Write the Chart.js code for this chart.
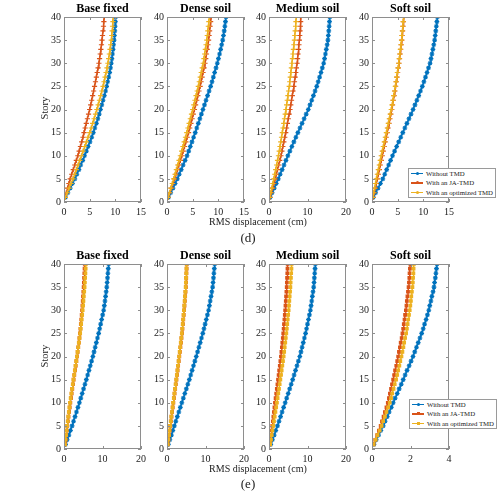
<!DOCTYPE html>
<html>
<head>
<meta charset="utf-8">
<script src="https://cdn.jsdelivr.net/npm/chart.js@4.4.1/dist/chart.umd.min.js"></script>
<style>
  body { margin: 0; background: #fff; }
  #fig { position: relative; width: 500px; height: 493px; overflow: hidden; font-family: "Liberation Serif", "Times New Roman", serif; color: #222; }
  .cv { position: absolute; }
  .txt { position: absolute; white-space: nowrap; transform: translate(-50%, -50%); }
  .rot { transform: translate(-50%, -50%) rotate(-90deg); }
  .legend { position: absolute; border: 1px solid #9a9a9a; background: #fff; font-size: 6.8px; }
  .legend div { position: relative; height: 9.3px; line-height: 9.3px; padding-left: 17px; padding-right: 2px; }
  .legend span.ln { position: absolute; left: 2px; top: 4px; width: 12px; height: 1.4px; }
  .legend span.mk { position: absolute; left: 6.5px; top: 3.2px; width: 3px; height: 3px; }
</style>
</head>
<body>
<div id="fig"></div>
<script>
// data: RMS displacement (cm) per story
const stories = [1,2,3,4,5,6,7,8,9,10,11,12,13,14,15,16,17,18,19,20,21,22,23,24,25,26,27,28,29,30,31,32,33,34,35,36,37,38,39,40];
const seriesNames = ['Without TMD', 'With an JA-TMD', 'With an optimized TMD'];
const panelTitles = ['Base fixed', 'Dense soil', 'Medium soil', 'Soft soil'];
const xMaxD = [15, 15, 20, 15];
const xStepD = [5, 5, 10, 5];
const xMaxE = [20, 20, 20, 4];
const xStepE = [10, 10, 10, 2];

// (d)
const dBaseNo  = [0.3,0.75,1.2,1.65,2.1,2.5,2.9,3.25,3.65,4.0,4.35,4.7,5.05,5.4,5.7,6.0,6.3,6.6,6.85,7.1,7.35,7.6,7.85,8.1,8.3,8.5,8.7,8.9,9.05,9.2,9.32,9.44,9.55,9.65,9.75,9.82,9.89,9.95,10.0,10.05];
const dBaseJA  = [0.2,0.45,0.7,0.95,1.2,1.5,1.8,2.1,2.4,2.7,2.95,3.2,3.45,3.7,3.9,4.12,4.34,4.56,4.78,5.0,5.2,5.39,5.58,5.77,5.95,6.13,6.3,6.47,6.64,6.8,6.93,7.06,7.18,7.3,7.4,7.5,7.6,7.69,7.77,7.85];
const dBaseOpt = [0.25,0.62,1.0,1.38,1.75,2.08,2.41,2.74,3.07,3.4,3.72,4.04,4.36,4.68,5.0,5.3,5.58,5.86,6.13,6.4,6.65,6.9,7.14,7.37,7.6,7.8,8.0,8.19,8.37,8.55,8.69,8.83,8.96,9.08,9.2,9.29,9.37,9.45,9.53,9.6];
const dDenseNo  = [0.3,0.72,1.15,1.58,2.0,2.38,2.76,3.14,3.52,3.9,4.22,4.54,4.86,5.18,5.5,5.8,6.1,6.4,6.7,7.0,7.3,7.6,7.9,8.2,8.5,8.77,9.03,9.28,9.55,9.8,10.02,10.24,10.45,10.65,10.85,11.0,11.14,11.27,11.39,11.5];
const dDenseJA  = [0.2,0.51,0.82,1.13,1.45,1.74,2.03,2.32,2.61,2.9,3.16,3.42,3.68,3.94,4.2,4.43,4.66,4.89,5.12,5.35,5.57,5.79,6.01,6.23,6.45,6.64,6.83,7.02,7.21,7.4,7.55,7.69,7.83,7.97,8.1,8.2,8.3,8.4,8.5,8.6];
const dDenseOpt = [0.2,0.48,0.75,1.03,1.3,1.56,1.82,2.08,2.34,2.6,2.85,3.1,3.35,3.6,3.85,4.08,4.31,4.54,4.77,5.0,5.22,5.44,5.66,5.88,6.1,6.29,6.48,6.67,6.86,7.05,7.19,7.33,7.47,7.61,7.75,7.85,7.95,8.05,8.15,8.25];
const dMedNo  = [0.3,0.82,1.35,1.88,2.4,2.9,3.4,3.9,4.4,4.9,5.42,5.94,6.46,6.98,7.5,8.04,8.58,9.12,9.66,10.2,10.65,11.1,11.54,11.97,12.4,12.77,13.14,13.5,13.85,14.2,14.43,14.66,14.88,15.1,15.3,15.41,15.52,15.62,15.71,15.8];
const dMedJA  = [0.25,0.59,0.93,1.27,1.6,1.9,2.2,2.5,2.8,3.1,3.35,3.6,3.85,4.1,4.35,4.57,4.79,5.01,5.23,5.45,5.65,5.85,6.05,6.25,6.45,6.62,6.79,6.96,7.13,7.3,7.42,7.54,7.66,7.78,7.9,7.98,8.06,8.14,8.22,8.3];
const dMedOpt = [0.2,0.46,0.72,0.99,1.25,1.49,1.73,1.97,2.21,2.45,2.65,2.85,3.05,3.25,3.45,3.64,3.83,4.02,4.21,4.4,4.57,4.74,4.91,5.08,5.25,5.39,5.53,5.67,5.81,5.95,6.08,6.21,6.34,6.47,6.6,6.7,6.8,6.9,7.0,7.1];
const dSoftNo  = [0.25,0.71,1.17,1.64,2.1,2.48,2.86,3.24,3.62,4.0,4.4,4.8,5.2,5.6,6.0,6.4,6.8,7.2,7.6,8.0,8.37,8.74,9.1,9.45,9.8,10.11,10.42,10.72,11.01,11.3,11.49,11.68,11.86,12.03,12.2,12.31,12.42,12.53,12.64,12.75];
const dSoftJA  = [0.2,0.41,0.62,0.84,1.05,1.24,1.43,1.62,1.81,2.0,2.19,2.38,2.57,2.76,2.95,3.13,3.31,3.49,3.67,3.85,4.0,4.15,4.3,4.45,4.6,4.73,4.86,4.99,5.12,5.25,5.36,5.47,5.58,5.69,5.8,5.88,5.96,6.04,6.12,6.2];
const dSoftOpt = [0.15,0.33,0.5,0.68,0.85,1.04,1.23,1.42,1.61,1.8,2.0,2.2,2.4,2.6,2.8,2.99,3.18,3.37,3.56,3.75,3.91,4.07,4.23,4.39,4.55,4.68,4.81,4.94,5.07,5.2,5.31,5.42,5.53,5.64,5.75,5.83,5.91,5.99,6.07,6.15];

// (e)
const eBaseNo  = [0.4,0.82,1.25,1.68,2.1,2.48,2.86,3.24,3.62,4.0,4.36,4.72,5.08,5.44,5.8,6.14,6.48,6.82,7.16,7.5,7.8,8.1,8.4,8.7,9.0,9.26,9.52,9.78,10.04,10.3,10.47,10.64,10.8,10.95,11.1,11.2,11.3,11.4,11.5,11.6];
const eBaseJA  = [0.3,0.44,0.58,0.71,0.85,1.01,1.17,1.33,1.49,1.65,1.82,1.99,2.16,2.33,2.5,2.68,2.86,3.04,3.22,3.4,3.55,3.7,3.85,4.0,4.15,4.26,4.37,4.48,4.59,4.7,4.78,4.86,4.94,5.02,5.1,5.16,5.22,5.28,5.34,5.4];
const eBaseOpt = [0.25,0.39,0.53,0.66,0.8,0.95,1.1,1.25,1.4,1.55,1.73,1.91,2.09,2.27,2.45,2.63,2.81,2.99,3.17,3.35,3.52,3.69,3.86,4.03,4.2,4.33,4.46,4.59,4.72,4.85,4.95,5.05,5.15,5.25,5.35,5.42,5.49,5.56,5.63,5.7];
const eDenseNo  = [0.35,0.74,1.13,1.51,1.9,2.29,2.68,3.07,3.46,3.85,4.24,4.63,5.02,5.41,5.8,6.16,6.52,6.88,7.24,7.6,7.94,8.28,8.62,8.96,9.3,9.6,9.9,10.2,10.5,10.8,11.01,11.22,11.43,11.64,11.85,11.96,12.07,12.18,12.29,12.4];
const eDenseJA  = [0.2,0.36,0.53,0.69,0.85,1.01,1.17,1.33,1.49,1.65,1.81,1.97,2.13,2.29,2.45,2.6,2.75,2.9,3.05,3.2,3.34,3.48,3.62,3.76,3.9,4.01,4.12,4.23,4.34,4.45,4.54,4.63,4.72,4.81,4.9,4.95,5.0,5.05,5.1,5.15];
const eDenseOpt = [0.2,0.35,0.5,0.65,0.8,0.96,1.12,1.28,1.44,1.6,1.76,1.92,2.08,2.24,2.4,2.55,2.7,2.85,3.0,3.15,3.29,3.43,3.57,3.71,3.85,3.96,4.07,4.18,4.29,4.4,4.49,4.58,4.67,4.76,4.85,4.9,4.95,5.0,5.05,5.1];
const eMedNo  = [0.45,0.89,1.33,1.76,2.2,2.6,3.0,3.4,3.8,4.2,4.59,4.98,5.37,5.76,6.15,6.52,6.89,7.26,7.63,8.0,8.3,8.6,8.9,9.2,9.5,9.75,10.0,10.25,10.5,10.75,10.92,11.09,11.26,11.43,11.6,11.69,11.78,11.87,11.96,12.05];
const eMedJA  = [0.25,0.4,0.55,0.7,0.85,0.99,1.13,1.27,1.41,1.55,1.71,1.87,2.03,2.19,2.35,2.5,2.65,2.8,2.95,3.1,3.22,3.34,3.46,3.58,3.7,3.8,3.9,4.0,4.1,4.2,4.28,4.36,4.44,4.52,4.6,4.65,4.7,4.75,4.8,4.85];
const eMedOpt = [0.3,0.5,0.7,0.9,1.1,1.29,1.48,1.67,1.86,2.05,2.23,2.41,2.59,2.77,2.95,3.12,3.29,3.46,3.63,3.8,3.94,4.08,4.22,4.36,4.5,4.62,4.74,4.86,4.98,5.1,5.19,5.28,5.37,5.46,5.55,5.62,5.69,5.76,5.83,5.9];
const eSoftNo  = [0.1,0.22,0.34,0.46,0.58,0.68,0.79,0.89,1.0,1.1,1.2,1.31,1.41,1.52,1.62,1.72,1.82,1.93,2.03,2.13,2.22,2.31,2.4,2.49,2.58,2.66,2.73,2.81,2.88,2.95,3.0,3.06,3.11,3.17,3.22,3.25,3.29,3.32,3.35,3.38];
const eSoftJA  = [0.08,0.17,0.27,0.36,0.45,0.52,0.6,0.67,0.75,0.82,0.88,0.93,0.99,1.04,1.1,1.15,1.2,1.26,1.31,1.36,1.4,1.45,1.49,1.54,1.58,1.62,1.65,1.69,1.72,1.76,1.79,1.81,1.84,1.87,1.9,1.92,1.94,1.95,1.97,1.99];
const eSoftOpt = [0.08,0.19,0.29,0.4,0.5,0.58,0.67,0.75,0.84,0.92,0.99,1.05,1.12,1.18,1.25,1.31,1.36,1.42,1.47,1.53,1.58,1.63,1.67,1.72,1.77,1.81,1.85,1.88,1.92,1.96,1.99,2.02,2.04,2.07,2.1,2.12,2.13,2.15,2.16,2.18];

const dPanels = [[dBaseNo, dBaseJA, dBaseOpt], [dDenseNo, dDenseJA, dDenseOpt], [dMedNo, dMedJA, dMedOpt], [dSoftNo, dSoftJA, dSoftOpt]];
const ePanels = [[eBaseNo, eBaseJA, eBaseOpt], [eDenseNo, eDenseJA, eDenseOpt], [eMedNo, eMedJA, eMedOpt], [eSoftNo, eSoftJA, eSoftOpt]];

const colors = ['#0072BD', '#D95319', '#EDB120'];
const serif = '"Liberation Serif", "Times New Roman", serif';
const axisGray = '#8e8e8e';

// layout (css px)
const colLeft = [64, 167, 269, 372];
const plotW = 77;
const rowTop = [17, 264];
const plotH = 185;
const yAxisW = 35, xAxisH = 20, titleH = 17, padR = 12;

// box with inside ticks, matlab style, plus the panel title centred on the plot
const boxAxes = {
  id: 'boxAxes',
  afterDraw(chart, args, opts) {
    const { ctx, chartArea: a, scales: { x, y } } = chart;
    ctx.save();
    ctx.strokeStyle = axisGray;
    ctx.lineWidth = 1;
    ctx.strokeRect(a.left + 0.5, a.top + 0.5, a.right - a.left - 1, a.bottom - a.top - 1);
    ctx.beginPath();
    x.ticks.forEach(t => {
      const p = Math.round(x.getPixelForValue(t.value)) + 0.5;
      ctx.moveTo(p, a.bottom); ctx.lineTo(p, a.bottom - 3);
      ctx.moveTo(p, a.top); ctx.lineTo(p, a.top + 3);
    });
    y.ticks.forEach(t => {
      const p = Math.round(y.getPixelForValue(t.value)) + 0.5;
      ctx.moveTo(a.left, p); ctx.lineTo(a.left + 3, p);
      ctx.moveTo(a.right, p); ctx.lineTo(a.right - 3, p);
    });
    ctx.stroke();
    if (opts.text) {
      ctx.fillStyle = '#000';
      ctx.font = 'bold 12px ' + serif;
      ctx.textAlign = 'center';
      ctx.textBaseline = 'middle';
      ctx.fillText(opts.text, (a.left + a.right) / 2, a.top - 8.5);
    }
    ctx.restore();
  }
};

const fig = document.getElementById('fig');

function addText(str, x, y, size, cls) {
  const d = document.createElement('div');
  d.className = 'txt' + (cls ? ' ' + cls : '');
  d.style.left = x + 'px';
  d.style.top = y + 'px';
  d.style.fontSize = size + 'px';
  d.textContent = str;
  fig.appendChild(d);
}

function makePanel(row, col, series, xMax, xStep, bottomStyle) {
  const cv = document.createElement('canvas');
  const w = yAxisW + plotW + padR;
  const h = titleH + plotH + xAxisH;
  cv.width = w; cv.height = h;
  cv.className = 'cv';
  cv.style.left = (colLeft[col] - yAxisW) + 'px';
  cv.style.top = (rowTop[row] - titleH) + 'px';
  cv.style.width = w + 'px'; cv.style.height = h + 'px';
  fig.appendChild(cv);

  const styles = bottomStyle ? ['star', 'rect', 'rect'] : ['star', 'cross', 'cross'];
  const radii = bottomStyle ? [2.4, 1.8, 1.8] : [2.4, 2.6, 2.6];

  new Chart(cv.getContext('2d'), {
    type: 'scatter',
    data: {
      datasets: series.map((vals, i) => ({
        label: seriesNames[i],
        data: stories.map((s, k) => ({ x: vals[k], y: s })),
        showLine: true,
        borderColor: colors[i],
        backgroundColor: colors[i],
        borderWidth: 1.5,
        pointStyle: styles[i],
        pointRadius: radii[i],
        pointBorderWidth: 1.2,
        order: 2 - i
      }))
    },
    options: {
      responsive: false,
      animation: false,
      layout: { padding: { left: 0, right: padR, top: titleH, bottom: 0 } },
      plugins: {
        legend: { display: false },
        tooltip: { enabled: false },
        title: { display: false },
        boxAxes: { text: panelTitles[col] }
      },
      scales: {
        x: {
          type: 'linear', min: 0, max: xMax,
          afterFit(s) { s.height = xAxisH; },
          grid: { display: false, drawTicks: false },
          border: { display: false },
          ticks: { stepSize: xStep, autoSkip: false, maxRotation: 0, padding: 4, color: '#222', font: { family: serif, size: 10 } }
        },
        y: {
          type: 'linear', min: 0, max: 40,
          afterFit(s) { s.width = yAxisW; },
          grid: { display: false, drawTicks: false },
          border: { display: false },
          ticks: { stepSize: 5, autoSkip: false, padding: 3, color: '#222', font: { family: serif, size: 10 } }
        }
      }
    },
    plugins: [boxAxes]
  });
}

dPanels.forEach((s, c) => makePanel(0, c, s, xMaxD[c], xStepD[c], false));
ePanels.forEach((s, c) => makePanel(1, c, s, xMaxE[c], xStepE[c], true));

// labels
addText('Story', 44, 108, 10.5, 'rot');
addText('Story', 44, 356, 10.5, 'rot');
addText('RMS displacement (cm)', 258, 220.5, 10);
addText('RMS displacement (cm)', 258, 468, 10);
addText('(d)', 248, 238, 13);
addText('(e)', 248, 484, 13);

function addLegend(left, top, row) {
  const lg = document.createElement('div');
  lg.className = 'legend';
  lg.style.left = left + 'px';
  lg.style.top = top + 'px';
  seriesNames.forEach((n, i) => {
    const r = document.createElement('div');
    const ln = document.createElement('span');
    ln.className = 'ln'; ln.style.background = colors[i];
    const mk = document.createElement('span');
    mk.className = 'mk'; mk.style.background = colors[i];
    if (i === 0 || row === 0) mk.style.borderRadius = '50%';
    r.appendChild(ln); r.appendChild(mk);
    r.appendChild(document.createTextNode(n));
    lg.appendChild(r);
  });
  fig.appendChild(lg);
}
addLegend(408, 168, 0);
addLegend(409, 399, 1);
</script>
</body>
</html>
